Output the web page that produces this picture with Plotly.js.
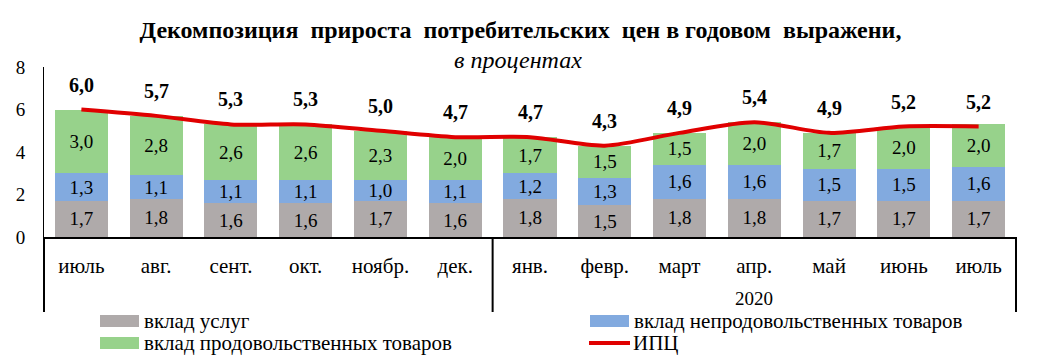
<!DOCTYPE html>
<html><head><meta charset="utf-8">
<script src="https://cdn.plot.ly/plotly-3.0.1.min.js"></script>
<style>html,body{margin:0;padding:0;background:#fff;}#chart{width:1041px;height:355px;}</style>
</head><body><div id="chart"></div>
<script>
var months = ['июль','авг.','сент.','окт.','ноябр.','дек.','янв.','февр.','март','апр.','май','июнь','июль'];
var yearLabel = '2020';
var services = [1.7,1.8,1.6,1.6,1.7,1.6,1.8,1.5,1.8,1.8,1.7,1.7,1.7];
var nonfood  = [1.3,1.1,1.1,1.1,1.0,1.1,1.2,1.3,1.6,1.6,1.5,1.5,1.6];
var food     = [3.0,2.8,2.6,2.6,2.3,2.0,1.7,1.5,1.5,2.0,1.7,2.0,2.0];
var cpi      = [6.0,5.7,5.3,5.3,5.0,4.7,4.7,4.3,4.9,5.4,4.9,5.2,5.2];
var legendNames = ['вклад услуг','вклад непродовольственных товаров','вклад продовольственных товаров','ИПЦ'];
var yTicks = [0,2,4,6,8];

var FONT = "'Liberation Serif', 'Times New Roman', serif";
var xs = months.map(function(_, i){ return i; });
var colors = {services:'#AFAAAA', nonfood:'#82AADF', food:'#97D28B', cpi:'#E00000'};

function barTrace(vals, name, color){
  return {
    type:'bar', x: xs, y: vals, name: name,
    marker:{color: color, line:{width:0}},
    texttemplate:'%{y:.1f}', textposition:'inside', insidetextanchor:'middle',
    constraintext:'none',
    textfont:{family: FONT, size:19, color:'#000'},
    hoverinfo:'y', showlegend:false
  };
}
var traces = [
  barTrace(services, legendNames[0], colors.services),
  barTrace(nonfood, legendNames[1], colors.nonfood),
  barTrace(food, legendNames[2], colors.food),
  {type:'scatter', mode:'lines', x: xs, y: cpi, name: legendNames[3],
   line:{color: colors.cpi, width:4, shape:'spline', smoothing:0.8}, showlegend:false}
];

var annotations = cpi.map(function(v, i){
  return {x: i, y: v, xref:'x', yref:'y', yshift: 25, showarrow:false, yanchor:'middle',
    text: '<b>' + v.toFixed(1).replace('.', ',') + '</b>',
    font:{family: FONT, size:20, color:'#000'}};
});
annotations.push({x: 9, y: -0.359, xref:'x', yref:'paper', showarrow:false, text: yearLabel,
  xanchor:'center', yanchor:'middle', font:{family: FONT, size:19, color:'#000'}});
annotations.push({x: 0.488, y: 1.041, xref:'paper', yref:'paper', showarrow:false,
  xanchor:'center', yanchor:'middle',
  text:'<i>в процентах</i>', font:{family: FONT, size:24, color:'#000'}});

// manual legend (wide swatches)
var W = 972, H = 170, L = 44, B = 237;
function px(x){ return (x - L)/W; }
function py(y){ return (B - y)/H; }
var legendItems = [
  {name: legendNames[0], color: colors.services, x: 100, y: 321, kind:'rect'},
  {name: legendNames[1], color: colors.nonfood, x: 590, y: 321, kind:'rect'},
  {name: legendNames[2], color: colors.food, x: 100, y: 343, kind:'rect'},
  {name: legendNames[3], color: colors.cpi, x: 589, y: 343, kind:'line'}
];
var shapes = [
  {type:'line', xref:'paper', yref:'paper', x0:0, x1:0, y0:0, y1:py(312), line:{color:'#000', width:2}},
  {type:'line', xref:'paper', yref:'paper', x0:1, x1:1, y0:0, y1:py(312), line:{color:'#000', width:2}},
  {type:'line', xref:'x', yref:'paper', x0:5.5, x1:5.5, y0:0, y1:py(312), line:{color:'#000', width:2}}
];
legendItems.forEach(function(it){
  if (it.kind === 'rect') {
    shapes.push({type:'rect', xref:'paper', yref:'paper', x0:px(it.x), x1:px(it.x+39),
      y0:py(it.y-6), y1:py(it.y+6), fillcolor: it.color, line:{width:0}});
  } else {
    shapes.push({type:'line', xref:'paper', yref:'paper', x0:px(it.x), x1:px(it.x+41),
      y0:py(it.y), y1:py(it.y), line:{color: it.color, width:4}});
  }
  annotations.push({x: px(it.x+42), y: py(it.y), xref:'paper', yref:'paper', xanchor:'left',
    yanchor:'middle', showarrow:false, text: it.name, font:{family: FONT, size:21, color:'#000'}});
});

var layout = {
  width:1041, height:355,
  margin:{l:44, r:25, t:67, b:118},
  paper_bgcolor:'#fff', plot_bgcolor:'#fff',
  barmode:'stack', bargap:0.29,
  separators:', ',
  showlegend:false,
  title:{text:'<b>Декомпозиция  прироста  потребительских  цен в годовом  выражени,</b>',
    x:0.5, xanchor:'center', y: 1 - 30/355, yanchor:'middle',
    font:{family: FONT, size:24, color:'#000'}},
  xaxis:{range:[-0.5, 12.5], tickvals: xs, ticktext: months, showgrid:false, zeroline:false,
    showline:true, linecolor:'#000', linewidth:2, ticks:'', ticklabelstandoff:9,
    tickfont:{family: FONT, size:21, color:'#000'}, fixedrange:true},
  yaxis:{range:[0, 8], tickvals: yTicks, showgrid:false, zeroline:false,
    showline:true, linecolor:'#000', linewidth:1, ticks:'', ticklabelstandoff:14,
    tickfont:{family: FONT, size:19, color:'#000'}, fixedrange:true},
  annotations: annotations,
  shapes: shapes
};
Plotly.newPlot('chart', traces, layout, {displayModeBar:false, staticPlot:true});
</script></body></html>
